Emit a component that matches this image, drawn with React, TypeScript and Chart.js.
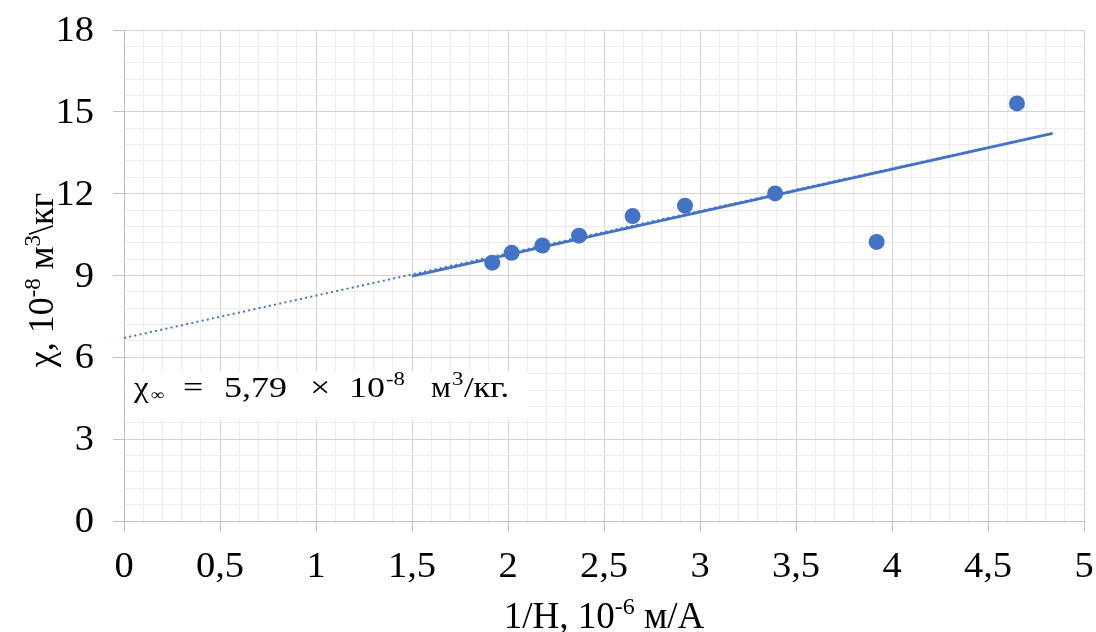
import React, { useEffect, useRef } from 'react';
import { Chart, registerables } from 'chart.js';

Chart.register(...registerables);

// ---- data ----
const pointsX = [1.918, 2.019, 2.179, 2.37, 2.649, 2.922, 3.391, 3.92, 4.651];
const pointsY = [9.47, 9.83, 10.1, 10.46, 11.18, 11.56, 12.01, 10.23, 15.31];
const fitLineX = [1.5, 4.837];
const fitLineY = [8.98, 14.21];
const trendX = [0, 4.63];
const trendY = [6.71, 13.9];
const xTickValues = [0, 0.5, 1, 1.5, 2, 2.5, 3, 3.5, 4, 4.5, 5];
const xTickLabels = ['0', '0,5', '1', '1,5', '2', '2,5', '3', '3,5', '4', '4,5', '5'];
const yTickValues = [0, 3, 6, 9, 12, 15, 18];
const yTickLabels = ['0', '3', '6', '9', '12', '15', '18'];

const FONT = '"Liberation Serif", "Times New Roman", serif';
const BLUE = '#4472C4';
const MAJOR = '#d4d4d4';
const MINOR = '#ececec';

type Seg = { text: string; size: number; dy?: number };

function drawRich(ctx: CanvasRenderingContext2D, segs: Seg[], x: number, y: number) {
  let total = 0;
  const widths: number[] = [];
  for (const s of segs) {
    ctx.font = `${s.size}px ${FONT}`;
    const w = ctx.measureText(s.text).width;
    widths.push(w);
    total += w;
  }
  let cur = x - total / 2;
  segs.forEach((s, i) => {
    ctx.font = `${s.size}px ${FONT}`;
    ctx.fillText(s.text, cur, y + (s.dy || 0));
    cur += widths[i];
  });
}

function drawStretched(
  ctx: CanvasRenderingContext2D,
  text: string,
  x: number,
  y: number,
  size: number,
  sx: number,
  align: 'left' | 'center' | 'right'
) {
  ctx.save();
  ctx.font = `${size}px ${FONT}`;
  const w = ctx.measureText(text).width * sx;
  const left = align === 'center' ? x - w / 2 : align === 'right' ? x - w : x;
  ctx.translate(left, y);
  ctx.scale(sx, 1);
  ctx.fillText(text, 0, 0);
  ctx.restore();
}

const isMajorX = (v: number) => Math.abs(v * 2 - Math.round(v * 2)) < 1e-6;
const isMajorY = (v: number) => Math.abs(v / 3 - Math.round(v / 3)) < 1e-6;

const textPlugin = {
  id: 'texts',
  afterDraw(chart: any) {
    const ctx: CanvasRenderingContext2D = chart.ctx;
    const area = chart.chartArea;
    const xs = chart.scales.x;
    const ys = chart.scales.y;
    ctx.save();
    ctx.fillStyle = '#000';
    ctx.textBaseline = 'alphabetic';
    ctx.textAlign = 'left';

    // tick labels
    xTickValues.forEach((v, i) => {
      drawStretched(ctx, xTickLabels[i], xs.getPixelForValue(v), 577, 35, 1.1, 'center');
    });
    yTickValues.forEach((v, i) => {
      drawStretched(ctx, yTickLabels[i], 94, ys.getPixelForValue(v) + 11, 35, 1.1, 'right');
    });

    // x axis title
    drawRich(
      ctx,
      [
        { text: '1/H, 10', size: 37 },
        { text: '-6', size: 24, dy: -14 },
        { text: ' м/А', size: 37 },
      ],
      (area.left + area.right) / 2,
      628
    );

    // y axis title
    ctx.save();
    ctx.translate(53, 280);
    ctx.rotate(-Math.PI / 2);
    drawRich(
      ctx,
      [
        { text: 'χ, 10', size: 36 },
        { text: '-8', size: 23, dy: -13 },
        { text: ' м', size: 36 },
        { text: '3', size: 23, dy: -13 },
        { text: '\\кг', size: 36 },
      ],
      0,
      0
    );
    ctx.restore();

    // annotation box
    ctx.fillStyle = '#ffffff';
    ctx.fillRect(area.left + 2, area.top + 341, 402, 49);
    ctx.fillStyle = '#000';
    const b = area.top + 367;
    const S = 1.2;
    drawStretched(ctx, 'χ', 134, b, 30, 1.1, 'left');
    drawStretched(ctx, '∞', 151, b + 3, 16, S, 'left');
    drawStretched(ctx, '=', 183, b, 30, S, 'left');
    drawStretched(ctx, '5,79', 224, b, 30, S, 'left');
    drawStretched(ctx, '×', 310, b, 30, S, 'left');
    drawStretched(ctx, '10', 349, b, 30, S, 'left');
    drawStretched(ctx, '-8', 386, b - 12, 19, S, 'left');
    drawStretched(ctx, 'м', 431, b, 30, 1.05, 'left');
    drawStretched(ctx, '3', 452, b - 12, 19, S, 'left');
    drawStretched(ctx, '/кг.', 464, b, 30, 1.15, 'left');
    ctx.restore();
  },
};

export default function App() {
  const ref = useRef<HTMLCanvasElement | null>(null);

  useEffect(() => {
    if (!ref.current) return;
    const chart = new Chart(ref.current, {
      type: 'scatter',
      data: {
        datasets: [
          {
            data: pointsX.map((x, i) => ({ x, y: pointsY[i] })),
            showLine: false,
            pointRadius: 8,
            pointHoverRadius: 8,
            backgroundColor: BLUE,
            borderWidth: 0,
          },
          {
            data: fitLineX.map((x, i) => ({ x, y: fitLineY[i] })),
            showLine: true,
            pointRadius: 0,
            borderColor: BLUE,
            borderWidth: 2.75,
          },
          {
            data: trendX.map((x, i) => ({ x, y: trendY[i] })),
            showLine: true,
            pointRadius: 0,
            borderColor: BLUE,
            borderWidth: 2,
            borderDash: [2, 3.3],
          },
        ],
      },
      options: {
        animation: false,
        responsive: true,
        maintainAspectRatio: false,
        layout: { padding: { left: 0, top: 30, right: 12, bottom: 0 } },
        plugins: { legend: { display: false }, tooltip: { enabled: false } },
        scales: {
          x: {
            type: 'linear',
            min: 0,
            max: 5,
            afterFit: (s: any) => {
              s.height = 111;
              s.paddingLeft = 0;
              s.paddingRight = 0;
            },
            ticks: { display: false, stepSize: 0.1, autoSkip: false, maxRotation: 0 },
            grid: {
              color: (c: any) => (isMajorX(c.tick.value) ? MAJOR : MINOR),
              tickColor: (c: any) => (isMajorX(c.tick.value) ? '#bfbfbf' : 'rgba(0,0,0,0)'),
              tickLength: 11,
              lineWidth: 1,
            },
            border: { color: '#bfbfbf', width: 1 },
          },
          y: {
            type: 'linear',
            min: 0,
            max: 18,
            afterFit: (s: any) => {
              s.width = 124;
              s.paddingTop = 0;
              s.paddingBottom = 0;
            },
            ticks: { display: false, stepSize: 0.6, autoSkip: false },
            grid: {
              color: (c: any) => (isMajorY(c.tick.value) ? MAJOR : MINOR),
              tickColor: (c: any) => (isMajorY(c.tick.value) ? '#bfbfbf' : 'rgba(0,0,0,0)'),
              tickLength: 11,
              lineWidth: 1,
            },
            border: { color: '#bfbfbf', width: 1 },
          },
        },
      },
      plugins: [textPlugin],
    } as any);
    return () => chart.destroy();
  }, []);

  return (
    <div style={{ position: 'fixed', left: 0, top: 0, width: 1096, height: 632, background: '#fff' }}>
      <canvas ref={ref} style={{ display: 'block' }} />
    </div>
  );
}
